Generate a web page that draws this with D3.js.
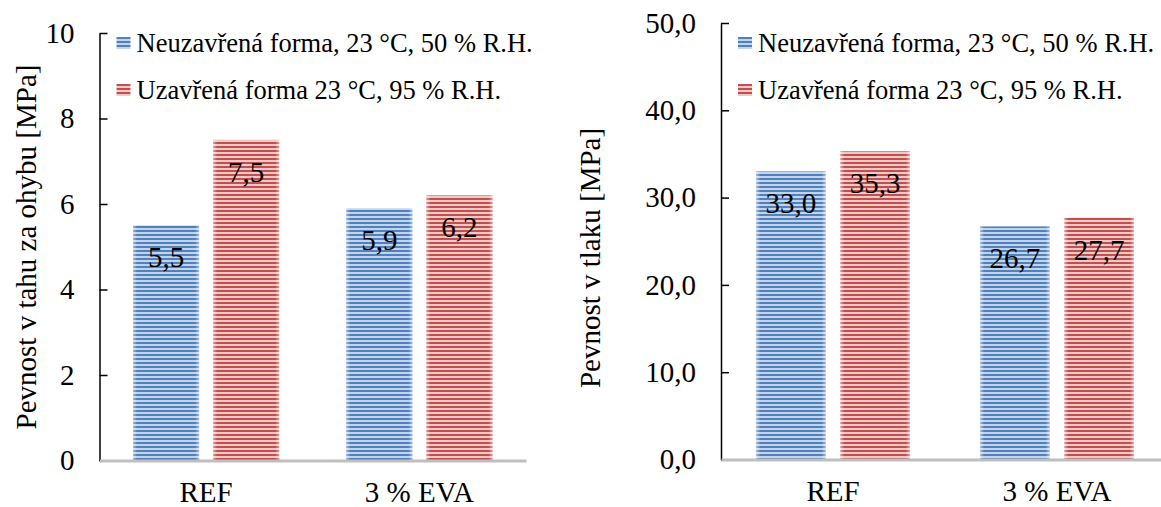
<!DOCTYPE html>
<html>
<head>
<meta charset="utf-8">
<script src="https://cdn.jsdelivr.net/npm/d3@7"></script>
<style>
  body { margin: 0; background: #fff; }
  svg text { font-family: "Liberation Serif", Tinos, "Times New Roman", Times !important; }
</style>
</head>
<body>
<script>
// data
var categories = ["REF", "3 % EVA"];
var seriesNames = ["Neuzavřená forma, 23 °C, 50 % R.H.", "Uzavřená forma 23 °C, 95 % R.H."];
var flexOpen = [5.5, 5.9];
var flexClosed = [7.5, 6.2];
var compOpen = [33.0, 26.7];
var compClosed = [35.3, 27.7];
var flexTicks = [0, 2, 4, 6, 8, 10];
var compTicks = [0, 10, 20, 30, 40, 50];

var FONT = "Liberation Serif";

var svg = d3.select("body")
  .append("svg")
    .attr("width", 1161)
    .attr("height", 507);

// striped fills like the Excel pattern
var defs = svg.append("defs");
function stripes(id, light, dark) {
  var p = defs.append("pattern")
    .attr("id", id)
    .attr("patternUnits", "userSpaceOnUse")
    .attr("width", 8).attr("height", 4);
  p.append("rect").attr("width", 8).attr("height", 4).attr("fill", light);
  p.append("rect").attr("y", 2).attr("width", 8).attr("height", 2).attr("fill", dark);
}
stripes("blueStripe", "#c3d3ea", "#4f81bd");
stripes("redStripe", "#efc8c7", "#c0504d");

var edge = defs.append("linearGradient").attr("id", "edgeGlow");
edge.append("stop").attr("offset", "0%").attr("stop-color", "#fff").attr("stop-opacity", 0.45);
edge.append("stop").attr("offset", "6%").attr("stop-color", "#fff").attr("stop-opacity", 0);
edge.append("stop").attr("offset", "94%").attr("stop-color", "#fff").attr("stop-opacity", 0);
edge.append("stop").attr("offset", "100%").attr("stop-color", "#fff").attr("stop-opacity", 0.45);

var fills = ["url(#blueStripe)", "url(#redStripe)"];
var comma = function(d) { return d.toFixed(1).replace(".", ","); };

function drawChart(opt) {
  var g = svg.append("g");

  var x0 = d3.scaleBand()
    .domain(categories)
    .range([opt.left, opt.right]);
  var bw = x0.bandwidth();
  var x1 = d3.scaleBand()
    .domain([0, 1])
    .range([bw * 0.157, bw * (1 - 0.157)])
    .paddingInner(0.175);

  var y = d3.scaleLinear()
    .domain([0, opt.ticks[opt.ticks.length - 1]])
    .range([opt.bottom, opt.top]);

  // bars
  var rows = categories.map(function(c, i) {
    return { cat: c, vals: [opt.a[i], opt.b[i]] };
  });
  var grp = g.selectAll(".grp")
    .data(rows)
    .enter().append("g")
      .attr("transform", function(d) { return "translate(" + x0(d.cat) + ",0)"; });

  var bar = grp.selectAll("g")
    .data(function(d) { return d.vals.map(function(v, s) { return { v: v, s: s }; }); })
    .enter().append("g");

  bar.append("rect")
    .attr("x", function(d) { return x1(d.s); })
    .attr("y", function(d) { return y(d.v); })
    .attr("width", x1.bandwidth())
    .attr("height", function(d) { return y(0) - y(d.v); })
    .attr("fill", function(d) { return fills[d.s]; });
  bar.append("rect")
    .attr("x", function(d) { return x1(d.s); })
    .attr("y", function(d) { return y(d.v); })
    .attr("width", x1.bandwidth())
    .attr("height", function(d) { return y(0) - y(d.v); })
    .attr("fill", "url(#edgeGlow)");

  bar.append("text")
    .attr("x", function(d) { return x1(d.s) + x1.bandwidth() / 2; })
    .attr("y", function(d) { return y(d.v) + 42; })
    .attr("text-anchor", "middle")
    .attr("font-family", FONT)
    .attr("font-size", 29)
    .text(function(d) { return comma(d.v); });

  // y axis, ticks pointing inward
  var ya = g.append("g")
    .attr("transform", "translate(" + opt.left + ",0)")
    .call(d3.axisLeft(y).tickValues(opt.ticks).tickFormat(opt.fmt)
      .tickSizeInner(-8).tickSizeOuter(0).tickPadding(25));
  ya.attr("font-family", FONT).attr("font-size", 29);
  ya.selectAll("text").attr("font-family", FONT).attr("fill", "#000");
  ya.selectAll("line").attr("stroke", "#000").attr("stroke-width", 1.5);
  ya.select(".domain").attr("stroke", "#000").attr("stroke-width", 1.5);

  // x axis, thick grey line
  var xa = g.append("g")
    .attr("transform", "translate(0," + opt.bottom + ")")
    .call(d3.axisBottom(x0).tickSize(0).tickPadding(21));
  xa.attr("font-family", FONT).attr("font-size", 29);
  xa.select(".domain").attr("stroke", "#bfbfbf").attr("stroke-width", 3);
  xa.selectAll("text").attr("font-family", FONT).attr("fill", "#000");

  // axis title
  g.append("text")
    .attr("transform", "translate(" + opt.titleX + "," + opt.titleY + ") rotate(-90)")
    .attr("text-anchor", "middle")
    .attr("font-family", FONT)
    .attr("font-size", 29)
    .text(opt.title);

  // legend
  var leg = g.selectAll(".leg")
    .data(seriesNames)
    .enter().append("g")
      .attr("transform", function(d, i) { return "translate(" + (opt.left + 17) + "," + (43 + i * 47) + ")"; });
  leg.append("rect")
    .attr("x", 0).attr("y", -6)
    .attr("width", 14).attr("height", 12)
    .attr("fill", function(d, i) { return fills[i]; });
  leg.append("text")
    .attr("x", 20)
    .attr("dy", "0.33em")
    .attr("font-family", FONT)
    .attr("font-size", 26.5)
    .text(function(d) { return d; });
}

drawChart({
  left: 99.5, right: 526, top: 33, bottom: 460.5,
  ticks: flexTicks, a: flexOpen, b: flexClosed,
  fmt: d3.format("d"),
  title: "Pevnost v tahu za ohybu [MPa]", titleX: 36, titleY: 247
});

drawChart({
  left: 721, right: 1169, top: 23, bottom: 459.5,
  ticks: compTicks, a: compOpen, b: compClosed,
  fmt: comma,
  title: "Pevnost v tlaku [MPa]", titleX: 600, titleY: 258
});
</script>
</body>
</html>
